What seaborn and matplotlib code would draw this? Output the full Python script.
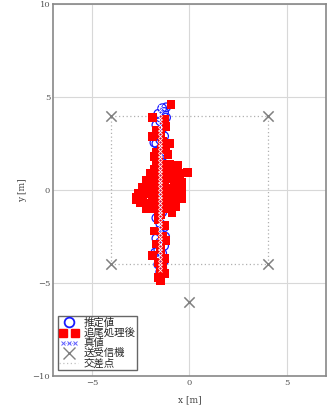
import matplotlib
matplotlib.use("Agg")
import matplotlib.pyplot as plt
from matplotlib.lines import Line2D
from matplotlib.legend_handler import HandlerLine2D
import seaborn as sns
import pandas as pd

# estimated positions (推定値)
est_x = [-1.4, -1.3, -1.6, -1.2, -1.5, -1.7, -1.4, -1.6, -1.3, -1.5, -1.7, -1.4,
         -1.6, -1.3, -1.5, -1.4, -1.6, -1.5, -1.4, -1.5, -1.6, -1.5, -1.4, -1.5,
         -1.6, -1.4, -1.7, -1.5, -1.3, -1.6, -1.4, -1.7, -1.5, -1.3, -1.6, -1.4,
         -1.5, -1.3, -1.6, -1.4, -1.5, -1.2, -1.8, -1.25, -1.75]
est_y = [4.4, 4.2, 4.1, 3.9, 3.7, 3.5, 3.3, 3.1, 2.9, 2.7, 2.5, 2.3,
         2.1, 1.9, 1.7, 1.5, 1.3, 1.1, 0.9, 0.6, 0.3, 0.0, -0.3, -0.6,
         -0.9, -1.2, -1.5, -1.8, -2.0, -2.2, -2.4, -2.6, -2.8, -3.0, -3.2, -3.4,
         -3.6, -3.8, -4.0, -4.2, -4.4, 4.45, 2.55, -2.5, -3.35]

# positions after tracking (追尾処理後)
trk_x = [-0.95, -1.9, -1.3, -1.2, -1.5, -1.9, -1.4, -1.2, -1.7, -1.1, -1.6, -1.8,
         -1.3, -1.45, -1.0, -1.7,
         -1.7, -1.4, -1.1, -0.8, -0.6, -1.8, -1.2, -0.5, -0.9, -1.5, -2.0, -0.5,
         -1.6, -1.1, -0.4, -0.8, -1.9, -2.2, -1.3, -0.6, -0.4, -2.0, -2.4, -1.0,
         -1.6, -1.2, -0.7, -0.4, -2.5, -2.1, -1.8, -1.3, -0.9, -0.5, -2.7, -2.4,
         -1.9, -1.5, -1.1, -0.7, -2.5, -2.1, -1.8, -1.4, -1.0, -0.7, -2.2, -1.9,
         -1.6, -1.2, -0.9, -2.0, -1.6, -1.3, -1.0, -1.8, -1.4, -1.1, -0.09, -0.43,
         -2.73, -2.2, -0.6, -1.5, -2.3, -1.9, -2.6, -0.7, -0.5, -1.0, -1.3, -2.1,
         -1.7, -2.4, -0.8, -1.4,
         -1.6, -1.3, -1.8, -1.4, -1.2, -1.7, -1.5, -1.9, -1.3, -1.6, -1.4, -1.5,
         -1.3, -1.6, -1.5]
trk_y = [4.6, 3.9, 3.8, 3.4, 3.0, 2.9, 2.6, 2.4, 2.0, 1.9, 1.6, 1.8,
         1.3, 2.2, 2.5, 3.2,
         1.45, 1.4, 1.3, 1.2, 1.0, 1.1, 1.1, 0.9, 0.8, 0.9, 0.8, 0.6,
         0.6, 0.6, 0.4, 0.4, 0.4, 0.3, 0.3, 0.2, 0.2, 0.1, 0.0, 0.0,
         0.0, -0.1, -0.1, -0.1, -0.2, -0.2, -0.3, -0.3, -0.3, -0.4, -0.4, -0.5,
         -0.5, -0.5, -0.6, -0.6, -0.7, -0.7, -0.8, -0.8, -0.8, -0.9, -1.0, -1.0,
         -1.1, -1.0, -1.2, 0.9, 0.7, 0.5, -0.4, 0.2, -0.6, 0.1, 0.93, -0.45,
         -0.5, 0.5, 1.3, -1.3, 0.0, 0.6, -0.2, 0.5, 0.9, 1.4, 1.0, -0.9,
         0.2, 0.15, -0.3, 1.1,
         -1.6, -1.9, -2.2, -2.5, -2.7, -2.9, -3.2, -3.5, -3.7, -3.9, -4.1, -4.3,
         -4.5, -4.7, -4.85]

# true trajectory (真値)
true_x = [-1.5] * 45
true_y = [4.5, 4.3, 4.1, 3.9, 3.7, 3.5, 3.3, 3.1, 2.9, 2.7, 2.5, 2.3, 2.1, 1.9,
          1.7, 1.5, 1.3, 1.1, 0.9, 0.7, 0.5, 0.3, 0.1, -0.1, -0.3, -0.5, -0.7,
          -0.9, -1.1, -1.3, -1.5, -1.7, -1.9, -2.1, -2.3, -2.5, -2.7, -2.9, -3.1,
          -3.3, -3.5, -3.7, -3.9, -4.1, -4.3]

# transceivers (送受信機)
tx_x = [-4, 4, -4, 4, 0]
tx_y = [4, 4, -4, -4, -6]

# intersection outline (交差点)
cross_x = [-4, 4, 4, -4, -4]
cross_y = [4, 4, -4, -4, 4]

sns.set_style("whitegrid")
plt.rcParams['font.family'] = ['Noto Sans CJK JP', 'DejaVu Sans']

fig = plt.figure(figsize=(3.27, 4.07), dpi=100)
ax = fig.add_axes([0.162, 0.076, 0.835, 0.914])

ax.plot(cross_x, cross_y, color='#b0b0b0', linestyle=(0, (1, 2)), linewidth=0.9, zorder=1)
sns.scatterplot(x=tx_x, y=tx_y, ax=ax, marker='x', s=55, color='#808080',
                linewidth=1.1, zorder=2)
sns.scatterplot(x=est_x, y=est_y, ax=ax, marker='o', s=38, facecolor='none',
                edgecolor='#1a1aff', linewidth=0.9, zorder=3)
sns.scatterplot(x=trk_x, y=trk_y, ax=ax, marker='s', s=40, color='#ff0000',
                edgecolor='none', linewidth=0, zorder=4)
true_df = pd.DataFrame({'x': true_x, 'y': true_y})
sns.lineplot(data=true_df, x='x', y='y', ax=ax, sort=False, estimator=None,
             color='#4040ff', linestyle=':', linewidth=0.6, marker='x',
             markersize=2.5, markeredgewidth=0.6, zorder=5)

ax.set_xlim(-7, 7)
ax.set_ylim(-10, 10)
ax.set_xticks([-5, 0, 5])
ax.set_yticks([-10, -5, 0, 5, 10])
ax.grid(True, color='#d8d8d8', linewidth=0.8)
for s in ax.spines.values():
    s.set_color('#888888')
    s.set_linewidth(1.2)
ax.tick_params(axis='both', labelsize=6, colors='#555555', length=0, pad=2)
for lbl in ax.get_xticklabels() + ax.get_yticklabels():
    lbl.set_family('DejaVu Serif')
ax.set_xlabel('x [m]', fontsize=6.5, family='DejaVu Serif', color='#444444', labelpad=6)
ax.set_ylabel('y [m]', fontsize=6.5, family='DejaVu Serif', color='#444444', labelpad=4)

handles = [
    Line2D([], [], marker='o', linestyle='none', markerfacecolor='none',
           markeredgecolor='#1a1aff', markersize=7, markeredgewidth=1.3),
    Line2D([], [], marker='s', linestyle='none', color='#ff0000', markersize=6),
    Line2D([], [], marker='x', linestyle=':', color='#6060ff', markersize=3,
           linewidth=0.6, markeredgewidth=0.7),
    Line2D([], [], marker='x', linestyle='none', color='#808080', markersize=8,
           markeredgewidth=1.0),
    Line2D([], [], linestyle=(0, (1, 2)), color='#c0c0c0', linewidth=0.9),
]
labels = ['推定値', '追尾処理後', '真値', '送受信機', '交差点']
leg = ax.legend(handles, labels, loc='lower left', bbox_to_anchor=(0.018, 0.016),
                fontsize=7.5, frameon=True, fancybox=False, borderpad=0.15,
                labelspacing=0.0, handlelength=1.8, handletextpad=0.5,
                borderaxespad=0,
                handler_map={handles[1]: HandlerLine2D(numpoints=2),
                             handles[2]: HandlerLine2D(numpoints=3)})
leg.get_frame().set_edgecolor('#666666')
leg.get_frame().set_linewidth(1.0)
leg.get_frame().set_alpha(1)

fig.savefig('out.png', dpi=100)
